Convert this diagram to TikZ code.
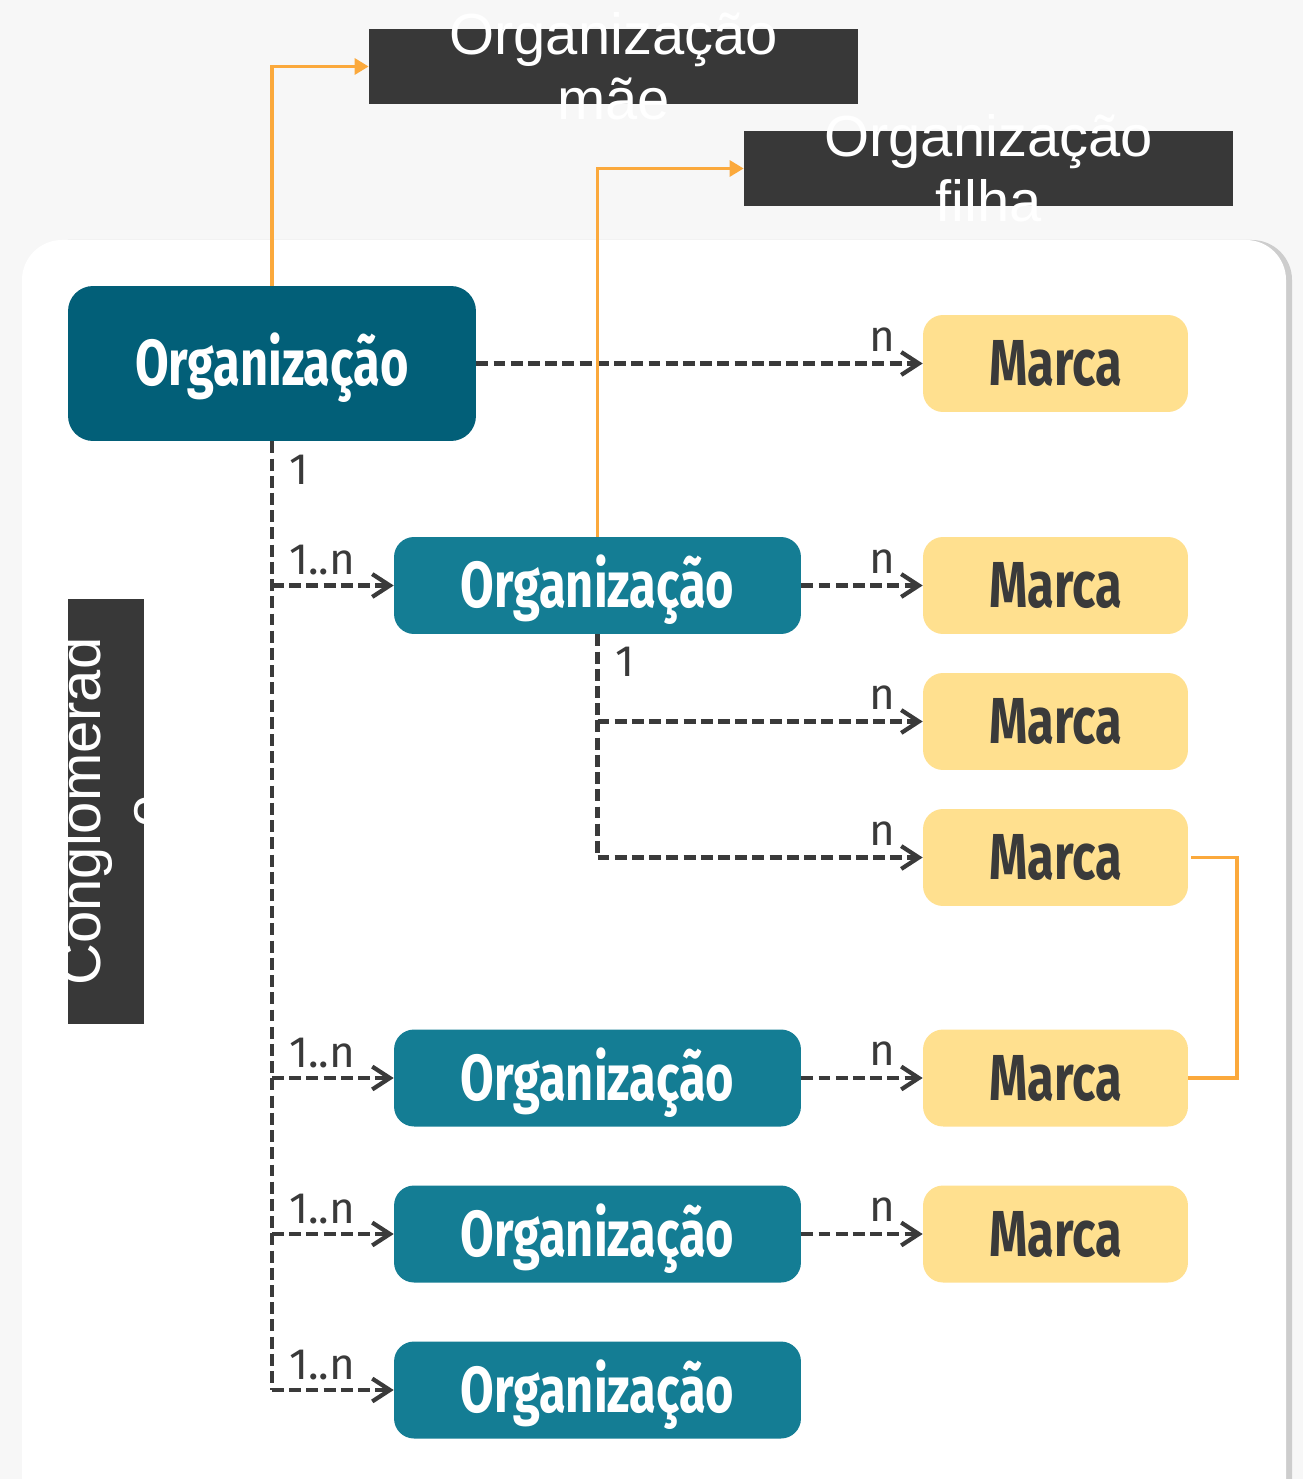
\documentclass[tikz,border=0pt]{standalone}
\usepackage{fontspec}
\usepackage{tikz}
\usetikzlibrary{arrows.meta,shadows}
\setmainfont{Liberation Sans}
\newfontfamily\boxfont[FakeStretch=0.75]{Fira Sans}
\newfontfamily\labelfont{Fira Sans}
\definecolor{bgGray}{HTML}{F7F7F7}
\definecolor{darkBox}{HTML}{383838}
\definecolor{orgDark}{HTML}{025F78}
\definecolor{orgTeal}{HTML}{147D94}
\definecolor{marcaYellow}{HTML}{FFE08F}
\definecolor{lineGray}{HTML}{3A3A3A}
\definecolor{linkOrange}{HTML}{FBA93C}
\tikzset{
  orgbox/.style={fill=orgTeal, rounded corners=0.4cm, minimum width=8.14cm, minimum height=1.94cm,
    text=white, font=\boxfont\bfseries\fontsize{37}{40}\selectfont, inner sep=0pt,
    text height=25.5pt, text depth=0pt},
  marcabox/.style={fill=marcaYellow, rounded corners=0.4cm, minimum width=5.3cm, minimum height=1.94cm,
    text=lineGray, font=\boxfont\bfseries\fontsize{37}{40}\selectfont, inner sep=0pt,
    text height=25.5pt, text depth=0pt},
  tagbox/.style={fill=darkBox, minimum width=9.78cm, minimum height=1.5cm, inner sep=0pt},
  tagtext/.style={text=white, align=center, font=\fontsize{33}{37}\selectfont, inner sep=0pt},
  dep/.style={draw=lineGray, line width=2.4pt, dash pattern=on 6.8pt off 3pt},
  deparrow/.style={dep, -{Straight Barb[length=10pt,width=13pt,line width=2.4pt]}},
  card/.style={text=lineGray, font=\labelfont\fontsize{25}{27}\selectfont, inner sep=1pt},
  link/.style={draw=linkOrange, line width=2.1pt},
  linkarrow/.style={link, -{Triangle[length=8pt,width=9pt]}}
}
\begin{document}
\begin{tikzpicture}[x=0.02cm,y=-0.02cm]
  %%%%% START %%%%%
  \useasboundingbox (0,0) rectangle (1303,1479);
  \fill[bgGray] (0,0) rectangle (1303,1479);
  \fill[white, rounded corners=0.8cm, drop shadow={shadow xshift=0.12cm, shadow yshift=0cm, opacity=0.35}]
    (22,240) rectangle (1286,1520);

  % top tags
  \node[tagbox] (mae) at (613.5,66.5) {};
  \node[tagtext] (maetext) at (613.5,66) {Organização\\mãe};
  \node[tagbox] (filha) at (988.5,168.5) {};
  \node[tagtext] (filhatext) at (988.5,168) {Organização\\filha};

  % side tag
  \node[fill=darkBox, minimum width=1.52cm, minimum height=8.5cm, inner sep=0pt] (cong) at (106,811.5) {};
  \node[tagtext, rotate=90] (congtext) at (112,811.5) {Conglomerad\\o};

  % organizations
  \node[orgbox, fill=orgDark, minimum width=8.16cm, minimum height=3.1cm, rounded corners=0.5cm] (org1) at (272,363.5) {Organização};
  \node[orgbox] (org2) at (597.5,585.5) {Organização};
  \node[orgbox] (org3) at (597.5,1078) {Organização};
  \node[orgbox] (org4) at (597.5,1234) {Organização};
  \node[orgbox] (org5) at (597.5,1390) {Organização};

  % brands
  \node[marcabox] (marca1) at (1055.5,363.5) {Marca};
  \node[marcabox] (marca2) at (1055.5,585.5) {Marca};
  \node[marcabox] (marca3) at (1055.5,721.5) {Marca};
  \node[marcabox] (marca4) at (1055.5,857.5) {Marca};
  \node[marcabox] (marca5) at (1055.5,1078) {Marca};
  \node[marcabox] (marca6) at (1055.5,1234) {Marca};

  % trunk from the main organization
  \coordinate (t2) at (org1.south |- org2.west);
  \coordinate (t3) at (org1.south |- org3.west);
  \coordinate (t4) at (org1.south |- org4.west);
  \coordinate (t5) at (org1.south |- org5.west);
  \draw[dep] (org1.south) -- (t5);
  \node[card, anchor=north west] (c1) at ([xshift=0.3cm,yshift=-0.24cm]org1.south) {1};
  \foreach \i in {2,3,4,5}{
    \draw[deparrow] (t\i) -- (org\i.west);
    \node[card, anchor=south west] (cn\i) at ([xshift=0.3cm,yshift=0.16cm]t\i) {1..n};
  }

  % trunk from the second organization
  \coordinate (s3) at (org2.south |- marca3.west);
  \coordinate (s4) at (org2.south |- marca4.west);
  \draw[dep] (org2.south) -- (s4);
  \node[card, anchor=north west] (c2) at ([xshift=0.32cm,yshift=-0.22cm]org2.south) {1};
  \draw[deparrow] (s3) -- (marca3.west);
  \draw[deparrow] (s4) -- (marca4.west);

  % organization to brand
  \draw[deparrow] (org1.east) -- (marca1.west);
  \draw[deparrow] (org2.east) -- (marca2.west);
  \draw[deparrow] (org3.east) -- (marca5.west);
  \draw[deparrow] (org4.east) -- (marca6.west);
  \foreach \m in {1,...,6}{
    \node[card, anchor=south east] (n\m) at ([xshift=-0.5cm,yshift=0.2cm]marca\m.west) {n};
  }

  % orange links
  \draw[linkarrow] (org1.north) |- (mae.west);
  \draw[linkarrow] (org2.north) |- (filha.west);
  \coordinate (bend) at (1237,857.5);
  \draw[link] ([xshift=0.06cm]marca4.east) -- (bend) |- (marca5.east);
  %%%%% END %%%%%
\end{tikzpicture}
\end{document}
